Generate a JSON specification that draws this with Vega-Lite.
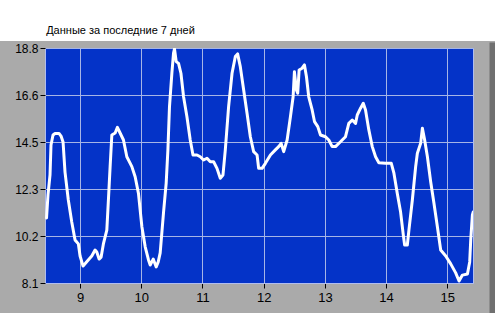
{
  "$schema": "https://vega.github.io/schema/vega-lite/v6.json",
  "width": 428,
  "height": 235,
  "autosize": {"type": "none"},
  "padding": {"left": 45, "top": 48, "right": 22, "bottom": 30},
  "background": "#aaaaaa",
  "config": {
    "view": {"fill": "#0433c8", "stroke": "#b0bdf0", "strokeWidth": 1},
    "font": "Liberation Sans"
  },
  "data": {"values": [
    {"day": 8.452, "value": 11.06}, {"day": 8.476, "value": 12.11}, {"day": 8.509, "value": 13.02},
    {"day": 8.525, "value": 14.38}, {"day": 8.558, "value": 14.84}, {"day": 8.591, "value": 14.91},
    {"day": 8.656, "value": 14.91}, {"day": 8.689, "value": 14.79}, {"day": 8.722, "value": 14.52},
    {"day": 8.754, "value": 13.15}, {"day": 8.808, "value": 11.88}, {"day": 8.864, "value": 10.88},
    {"day": 8.918, "value": 10.06}, {"day": 8.972, "value": 9.88}, {"day": 9.0, "value": 9.33},
    {"day": 9.049, "value": 8.87}, {"day": 9.109, "value": 9.07}, {"day": 9.191, "value": 9.33},
    {"day": 9.245, "value": 9.6}, {"day": 9.273, "value": 9.51}, {"day": 9.311, "value": 9.19},
    {"day": 9.344, "value": 9.28}, {"day": 9.381, "value": 9.88}, {"day": 9.437, "value": 10.51},
    {"day": 9.463, "value": 11.88}, {"day": 9.491, "value": 13.4}, {"day": 9.519, "value": 14.84},
    {"day": 9.573, "value": 14.93}, {"day": 9.61, "value": 15.19}, {"day": 9.654, "value": 14.93},
    {"day": 9.709, "value": 14.61}, {"day": 9.764, "value": 13.85}, {"day": 9.846, "value": 13.4},
    {"day": 9.9, "value": 12.94}, {"day": 9.954, "value": 12.18}, {"day": 10.01, "value": 10.66},
    {"day": 10.064, "value": 9.75}, {"day": 10.118, "value": 9.15}, {"day": 10.146, "value": 8.92},
    {"day": 10.195, "value": 9.19}, {"day": 10.244, "value": 8.83}, {"day": 10.277, "value": 9.06},
    {"day": 10.309, "value": 9.47}, {"day": 10.363, "value": 11.29}, {"day": 10.407, "value": 12.65},
    {"day": 10.435, "value": 14.16}, {"day": 10.461, "value": 16.13}, {"day": 10.5, "value": 17.66},
    {"day": 10.527, "value": 18.57}, {"day": 10.543, "value": 18.76}, {"day": 10.571, "value": 18.18},
    {"day": 10.609, "value": 18.1}, {"day": 10.648, "value": 17.65}, {"day": 10.691, "value": 16.58},
    {"day": 10.746, "value": 15.67}, {"day": 10.8, "value": 14.61}, {"day": 10.845, "value": 13.93},
    {"day": 10.91, "value": 13.93}, {"day": 10.964, "value": 13.85}, {"day": 11.018, "value": 13.7},
    {"day": 11.074, "value": 13.78}, {"day": 11.128, "value": 13.62}, {"day": 11.182, "value": 13.62},
    {"day": 11.237, "value": 13.32}, {"day": 11.291, "value": 12.87}, {"day": 11.335, "value": 13.02},
    {"day": 11.373, "value": 14.16}, {"day": 11.427, "value": 16.13}, {"day": 11.483, "value": 17.65},
    {"day": 11.537, "value": 18.41}, {"day": 11.574, "value": 18.53}, {"day": 11.618, "value": 17.95},
    {"day": 11.673, "value": 16.89}, {"day": 11.728, "value": 15.83}, {"day": 11.782, "value": 14.76},
    {"day": 11.836, "value": 14.08}, {"day": 11.892, "value": 13.93}, {"day": 11.918, "value": 13.32},
    {"day": 11.974, "value": 13.32}, {"day": 12.028, "value": 13.55}, {"day": 12.11, "value": 13.93},
    {"day": 12.191, "value": 14.16}, {"day": 12.245, "value": 14.31}, {"day": 12.285, "value": 14.46},
    {"day": 12.327, "value": 14.08}, {"day": 12.383, "value": 14.61}, {"day": 12.437, "value": 15.67},
    {"day": 12.481, "value": 16.58}, {"day": 12.502, "value": 17.72}, {"day": 12.535, "value": 16.89},
    {"day": 12.556, "value": 16.74}, {"day": 12.579, "value": 17.8}, {"day": 12.628, "value": 17.88},
    {"day": 12.666, "value": 18.03}, {"day": 12.699, "value": 17.49}, {"day": 12.736, "value": 16.58},
    {"day": 12.792, "value": 15.98}, {"day": 12.83, "value": 15.45}, {"day": 12.884, "value": 15.22},
    {"day": 12.928, "value": 14.84}, {"day": 13.01, "value": 14.76}, {"day": 13.064, "value": 14.61},
    {"day": 13.119, "value": 14.31}, {"day": 13.173, "value": 14.31}, {"day": 13.255, "value": 14.53},
    {"day": 13.337, "value": 14.76}, {"day": 13.391, "value": 15.37}, {"day": 13.447, "value": 15.52},
    {"day": 13.501, "value": 15.37}, {"day": 13.529, "value": 15.75}, {"day": 13.583, "value": 16.06},
    {"day": 13.627, "value": 16.28}, {"day": 13.664, "value": 15.98}, {"day": 13.718, "value": 15.07},
    {"day": 13.774, "value": 14.31}, {"day": 13.828, "value": 13.85}, {"day": 13.882, "value": 13.58},
    {"day": 13.992, "value": 13.55}, {"day": 14.085, "value": 13.55}, {"day": 14.128, "value": 13.1},
    {"day": 14.183, "value": 12.18}, {"day": 14.237, "value": 11.33}, {"day": 14.281, "value": 10.29},
    {"day": 14.303, "value": 9.83}, {"day": 14.347, "value": 9.83}, {"day": 14.373, "value": 10.51},
    {"day": 14.429, "value": 11.88}, {"day": 14.483, "value": 13.4}, {"day": 14.511, "value": 14.01},
    {"day": 14.565, "value": 14.46}, {"day": 14.593, "value": 15.15}, {"day": 14.63, "value": 14.61},
    {"day": 14.675, "value": 13.85}, {"day": 14.729, "value": 12.7}, {"day": 14.782, "value": 11.73},
    {"day": 14.838, "value": 10.66}, {"day": 14.892, "value": 9.6}, {"day": 14.974, "value": 9.33},
    {"day": 15.056, "value": 8.97}, {"day": 15.137, "value": 8.56}, {"day": 15.192, "value": 8.19},
    {"day": 15.247, "value": 8.46}, {"day": 15.329, "value": 8.51}, {"day": 15.366, "value": 9.06},
    {"day": 15.383, "value": 10.06}, {"day": 15.41, "value": 11.2}, {"day": 15.423, "value": 11.33}
  ]},
  "layer": [
    {
      "data": {"values": [{}]},
      "mark": {"type": "rect", "color": "#ffffff", "clip": false},
      "encoding": {
        "x": {"datum": 7.5, "type": "quantitative", "scale": {"domain": [8.427, 15.42], "zero": false, "nice": false}},
        "x2": {"datum": 16.2},
        "y": {"datum": 19.12, "type": "quantitative", "scale": {"domain": [8.1, 18.8], "zero": false, "nice": false}},
        "y2": {"datum": 21.8}
      }
    },
    {
      "data": {"values": [{}]},
      "mark": {"type": "rect", "color": "#707070", "clip": false},
      "encoding": {
        "x": {"datum": 15.69, "type": "quantitative", "scale": {"domain": [8.427, 15.42], "zero": false, "nice": false}},
        "x2": {"datum": 16.2},
        "y": {"datum": 19.05, "type": "quantitative", "scale": {"domain": [8.1, 18.8], "zero": false, "nice": false}},
        "y2": {"datum": 6.0}
      }
    },
    {
      "mark": {"type": "line", "color": "#ffffff", "strokeWidth": 3, "strokeJoin": "round", "strokeCap": "round", "clip": true},
      "encoding": {
        "x": {
          "field": "day", "type": "quantitative",
          "scale": {"domain": [8.427, 15.42], "zero": false, "nice": false},
          "axis": {
            "values": [9, 10, 11, 12, 13, 14, 15], "format": "d", "title": null,
            "grid": true, "gridColor": "#a6b5e6", "gridWidth": 1,
            "domain": true, "domainColor": "#b0bdf0",
            "ticks": true, "tickColor": "#000000", "tickSize": 5,
            "labelFontSize": 13, "labelColor": "#000000", "labelPadding": 3,
            "labelFont": "Liberation Sans"
          }
        },
        "y": {
          "field": "value", "type": "quantitative",
          "scale": {"domain": [8.1, 18.8], "zero": false, "nice": false},
          "axis": {
            "values": [8.1, 10.24, 12.38, 14.52, 16.66, 18.8],
            "labelExpr": "format(floor(datum.value * 10 + 0.001) / 10, '.1f')",
            "title": null,
            "grid": true, "gridColor": "#a6b5e6", "gridWidth": 1,
            "domain": false,
            "ticks": true, "tickColor": "#000000", "tickSize": 5,
            "labelFontSize": 12, "labelColor": "#000000", "labelPadding": 2,
            "labelFont": "Liberation Sans"
          }
        }
      }
    },
    {
      "data": {"values": [{}]},
      "mark": {"type": "text", "align": "left", "baseline": "alphabetic", "font": "Liberation Sans", "fontSize": 11, "color": "#000000", "clip": false},
      "encoding": {
        "x": {"datum": 8.446, "type": "quantitative", "scale": {"domain": [8.427, 15.42], "zero": false, "nice": false}},
        "y": {"datum": 19.44, "type": "quantitative", "scale": {"domain": [8.1, 18.8], "zero": false, "nice": false}},
        "text": {"value": "Данные за последние 7 дней"}
      }
    }
  ]
}
